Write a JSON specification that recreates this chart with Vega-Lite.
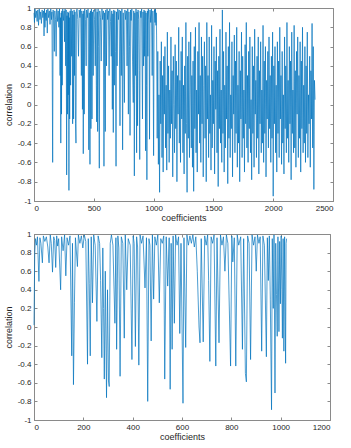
{
"$schema":"https://vega.github.io/schema/vega-lite/v6.json",
"padding":{"left":3,"top":3,"right":5,"bottom":5},
"spacing":6,
"config":{
"view":{"stroke":"#8a8a8a","strokeWidth":1},
"axis":{"labelFont":"Liberation Sans","titleFont":"Liberation Sans","labelFontSize":8,"titleFontSize":9,"titleFontWeight":"normal","labelColor":"#262626","titleColor":"#262626","domainColor":"#8a8a8a","tickColor":"#8a8a8a","tickSize":-3,"grid":false,"labelPadding":6},
"line":{"color":"#0072BD","strokeWidth":0.7}
},
"datasets":{
"a":[
{"x":0,"y":0.95},{"x":4,"y":0.85},{"x":8,"y":0.99},{"x":14,"y":0.9},{"x":20,"y":0.97},{"x":26,"y":0.86},{"x":32,"y":0.98},{"x":38,"y":0.82},{"x":44,"y":0.99},{"x":50,"y":0.88},{"x":56,"y":0.96},{"x":62,"y":0.84},{"x":68,"y":0.98},{"x":74,"y":0.9},{"x":80,"y":0.97},{"x":84,"y":0.71},{"x":88,"y":0.99},{"x":92,"y":0.8},{"x":96,"y":0.95},{"x":102,"y":0.87},{"x":106,"y":0.98},{"x":111,"y":0.74},{"x":116,"y":0.99},{"x":122,"y":0.9},{"x":128,"y":0.97},{"x":134,"y":0.83},{"x":140,"y":0.99},{"x":146,"y":0.88},{"x":150,"y":0.96},{"x":156,"y":-0.6},{"x":160,"y":0.98},{"x":166,"y":0.87},{"x":170,"y":0.55},{"x":174,"y":0.97},{"x":180,"y":0.88},{"x":185,"y":0.5},{"x":190,"y":0.99},{"x":196,"y":0.86},{"x":202,"y":0.97},{"x":208,"y":0.8},{"x":213,"y":0.99},{"x":218,"y":0.3},{"x":221,"y":0.9},{"x":224,"y":-0.4},{"x":227,"y":0.95},{"x":230,"y":-0.1},{"x":233,"y":0.97},{"x":236,"y":0.2},{"x":240,"y":0.99},{"x":246,"y":0.87},{"x":252,"y":0.97},{"x":255,"y":0.65},{"x":260,"y":0.99},{"x":265,"y":0.4},{"x":269,"y":0.98},{"x":273,"y":-0.73},{"x":276,"y":0.92},{"x":280,"y":-0.1},{"x":283,"y":0.96},{"x":286,"y":0.1},{"x":289,"y":0.95},{"x":292,"y":-0.89},{"x":295,"y":0.9},{"x":298,"y":-0.15},{"x":302,"y":0.97},{"x":306,"y":0.2},{"x":310,"y":0.99},{"x":315,"y":0.5},{"x":320,"y":0.97},{"x":323,"y":-0.2},{"x":327,"y":0.93},{"x":331,"y":-0.15},{"x":335,"y":0.98},{"x":339,"y":0.3},{"x":343,"y":0.96},{"x":347,"y":-0.2},{"x":351,"y":-0.4},{"x":355,"y":0.97},{"x":360,"y":0.99},{"x":366,"y":0.88},{"x":372,"y":0.5},{"x":378,"y":0.98},{"x":384,"y":0.9},{"x":390,"y":0.99},{"x":396,"y":0.3},{"x":400,"y":0.97},{"x":405,"y":-0.05},{"x":409,"y":0.94},{"x":412,"y":-0.51},{"x":416,"y":0.97},{"x":420,"y":-0.1},{"x":424,"y":0.99},{"x":430,"y":0.88},{"x":436,"y":0.4},{"x":440,"y":0.98},{"x":446,"y":0.9},{"x":452,"y":0.99},{"x":458,"y":-0.47},{"x":462,"y":0.95},{"x":468,"y":-0.62},{"x":472,"y":0.97},{"x":476,"y":-0.25},{"x":480,"y":0.99},{"x":485,"y":-0.15},{"x":490,"y":0.96},{"x":495,"y":0.3},{"x":500,"y":0.98},{"x":506,"y":0.88},{"x":512,"y":0.4},{"x":517,"y":0.99},{"x":521,"y":0.2},{"x":524,"y":-0.18},{"x":528,"y":0.96},{"x":532,"y":-0.28},{"x":536,"y":0.99},{"x":541,"y":0.6},{"x":546,"y":-0.66},{"x":550,"y":0.97},{"x":556,"y":0.9},{"x":562,"y":0.45},{"x":568,"y":0.99},{"x":574,"y":0.88},{"x":580,"y":0.97},{"x":585,"y":-0.64},{"x":590,"y":0.95},{"x":596,"y":-0.28},{"x":600,"y":0.98},{"x":606,"y":0.4},{"x":611,"y":0.99},{"x":616,"y":0.88},{"x":622,"y":0.97},{"x":628,"y":0.3},{"x":634,"y":0.99},{"x":640,"y":0.86},{"x":646,"y":0.5},{"x":650,"y":0.97},{"x":655,"y":-0.05},{"x":659,"y":0.94},{"x":663,"y":-0.29},{"x":667,"y":0.98},{"x":672,"y":0.2},{"x":676,"y":0.97},{"x":681,"y":0.55},{"x":686,"y":-0.64},{"x":690,"y":0.96},{"x":695,"y":0.4},{"x":700,"y":0.99},{"x":706,"y":0.88},{"x":712,"y":0.98},{"x":719,"y":-0.22},{"x":724,"y":0.97},{"x":730,"y":0.3},{"x":735,"y":0.99},{"x":741,"y":-0.47},{"x":746,"y":0.95},{"x":751,"y":0.5},{"x":756,"y":0.02},{"x":760,"y":0.98},{"x":766,"y":0.88},{"x":772,"y":0.97},{"x":778,"y":0.4},{"x":784,"y":0.99},{"x":789,"y":-0.1},{"x":794,"y":0.96},{"x":799,"y":0.6},{"x":803,"y":-0.32},{"x":807,"y":0.98},{"x":812,"y":0.87},{"x":818,"y":0.99},{"x":824,"y":0.45},{"x":830,"y":0.02},{"x":834,"y":0.97},{"x":839,"y":-0.74},{"x":843,"y":0.95},{"x":848,"y":0.3},{"x":853,"y":0.99},{"x":858,"y":-0.5},{"x":862,"y":0.96},{"x":866,"y":-0.22},{"x":870,"y":0.98},{"x":876,"y":0.88},{"x":880,"y":0.35},{"x":884,"y":-0.57},{"x":888,"y":0.97},{"x":894,"y":0.9},{"x":900,"y":0.99},{"x":907,"y":-0.15},{"x":911,"y":0.96},{"x":916,"y":0.4},{"x":920,"y":0.98},{"x":925,"y":0.5},{"x":929,"y":0.97},{"x":933,"y":-0.48},{"x":937,"y":0.95},{"x":941,"y":0.2},{"x":944,"y":-0.78},{"x":948,"y":0.97},{"x":952,"y":0.5},{"x":956,"y":0.99},{"x":962,"y":0.88},{"x":966,"y":-0.36},{"x":970,"y":0.98},{"x":976,"y":0.85},{"x":982,"y":0.99},{"x":988,"y":0.3},{"x":994,"y":0.97},{"x":1000,"y":-0.53},{"x":1004,"y":0.84},{"x":1008,"y":0.98},{"x":1012,"y":0.85},{"x":1016,"y":0.99},{"x":1020,"y":0.82},{"x":1022,"y":0.95},
{"x":1025,"y":0.72},{"x":1030,"y":-0.35},{"x":1035,"y":0.55},{"x":1040,"y":-0.62},{"x":1045,"y":0.1},{"x":1050,"y":-0.91},{"x":1055,"y":0.45},{"x":1060,"y":-0.2},{"x":1065,"y":0.65},{"x":1070,"y":-0.55},
{"x":1075,"y":0.3},{"x":1080,"y":-0.7},{"x":1085,"y":0.5},{"x":1090,"y":-0.1},{"x":1095,"y":0.6},{"x":1100,"y":-0.45},{"x":1105,"y":0.2},{"x":1110,"y":-0.68},{"x":1115,"y":0.75},{"x":1120,"y":-0.3},
{"x":1125,"y":0.4},{"x":1130,"y":-0.6},{"x":1135,"y":0.15},{"x":1140,"y":-0.35},{"x":1145,"y":0.7},{"x":1150,"y":-0.2},{"x":1155,"y":0.35},{"x":1160,"y":-0.75},{"x":1165,"y":0.5},{"x":1170,"y":0.0},
{"x":1175,"y":-0.5},{"x":1180,"y":0.62},{"x":1185,"y":-0.25},{"x":1190,"y":0.45},{"x":1195,"y":-0.8},{"x":1200,"y":0.3},{"x":1205,"y":-0.1},{"x":1210,"y":0.8},{"x":1215,"y":-0.4},{"x":1220,"y":0.25},
{"x":1225,"y":-0.6},{"x":1230,"y":0.55},{"x":1235,"y":-0.15},{"x":1240,"y":0.7},{"x":1245,"y":-0.5},{"x":1250,"y":0.2},{"x":1255,"y":-0.72},{"x":1260,"y":0.4},{"x":1265,"y":-0.3},{"x":1270,"y":0.85},
{"x":1275,"y":-0.2},{"x":1280,"y":-0.91},{"x":1285,"y":0.5},{"x":1290,"y":-0.35},{"x":1295,"y":0.65},{"x":1300,"y":-0.55},{"x":1305,"y":0.1},{"x":1310,"y":0.75},{"x":1315,"y":-0.45},{"x":1320,"y":0.3},
{"x":1325,"y":-0.65},{"x":1330,"y":0.45},{"x":1335,"y":-0.9},{"x":1340,"y":0.6},{"x":1345,"y":-0.25},{"x":1350,"y":0.8},{"x":1355,"y":-0.5},{"x":1360,"y":0.15},{"x":1365,"y":-0.7},{"x":1370,"y":0.55},
{"x":1375,"y":-0.1},{"x":1380,"y":0.85},{"x":1385,"y":-0.4},{"x":1390,"y":0.3},{"x":1395,"y":-0.6},{"x":1400,"y":0.7},{"x":1405,"y":-0.2},{"x":1410,"y":0.5},{"x":1415,"y":-0.75},{"x":1420,"y":0.2},
{"x":1425,"y":0.65},{"x":1430,"y":-0.35},{"x":1435,"y":0.4},{"x":1440,"y":-0.8},{"x":1445,"y":0.85},{"x":1450,"y":-0.15},{"x":1455,"y":0.3},{"x":1460,"y":-0.55},{"x":1465,"y":0.7},{"x":1470,"y":-0.3},
{"x":1475,"y":0.1},{"x":1480,"y":-0.68},{"x":1485,"y":0.82},{"x":1490,"y":-0.45},{"x":1495,"y":0.25},{"x":1500,"y":-0.2},{"x":1505,"y":0.6},{"x":1510,"y":-0.72},{"x":1515,"y":0.45},{"x":1520,"y":-0.05},
{"x":1525,"y":0.7},{"x":1530,"y":-0.5},{"x":1535,"y":0.35},{"x":1540,"y":-0.85},{"x":1545,"y":0.5},{"x":1550,"y":-0.25},{"x":1555,"y":0.78},{"x":1560,"y":-0.4},{"x":1565,"y":0.15},{"x":1570,"y":-0.6},
{"x":1575,"y":0.98},{"x":1580,"y":-0.3},{"x":1585,"y":0.55},{"x":1590,"y":-0.7},{"x":1595,"y":0.2},{"x":1600,"y":-0.45},{"x":1605,"y":0.75},{"x":1610,"y":-0.15},{"x":1615,"y":0.4},{"x":1620,"y":-0.82},
{"x":1625,"y":0.6},{"x":1630,"y":-0.35},{"x":1635,"y":0.85},{"x":1640,"y":-0.55},{"x":1645,"y":0.1},{"x":1650,"y":-0.25},{"x":1655,"y":0.65},{"x":1660,"y":-0.75},{"x":1665,"y":0.3},{"x":1670,"y":-0.1},
{"x":1675,"y":0.72},{"x":1680,"y":-0.5},{"x":1685,"y":0.45},{"x":1690,"y":-0.3},{"x":1695,"y":0.8},{"x":1700,"y":-0.65},{"x":1705,"y":0.2},{"x":1710,"y":-0.4},{"x":1715,"y":0.55},{"x":1720,"y":-0.8},
{"x":1725,"y":0.35},{"x":1730,"y":-0.15},{"x":1735,"y":0.75},{"x":1740,"y":-0.55},{"x":1745,"y":0.5},{"x":1750,"y":-0.35},{"x":1755,"y":0.15},{"x":1760,"y":-0.7},{"x":1765,"y":0.62},{"x":1770,"y":-0.2},
{"x":1775,"y":0.85},{"x":1780,"y":-0.45},{"x":1785,"y":0.3},{"x":1790,"y":-0.6},{"x":1795,"y":0.55},{"x":1800,"y":-0.25},{"x":1805,"y":0.7},{"x":1810,"y":-0.5},{"x":1815,"y":0.05},{"x":1820,"y":-0.78},
{"x":1825,"y":0.6},{"x":1830,"y":-0.3},{"x":1835,"y":0.4},{"x":1840,"y":-0.65},{"x":1845,"y":0.78},{"x":1850,"y":-0.1},{"x":1855,"y":0.25},{"x":1860,"y":-0.55},{"x":1865,"y":0.5},{"x":1870,"y":-0.35},
{"x":1875,"y":0.7},{"x":1880,"y":-0.72},{"x":1885,"y":0.35},{"x":1890,"y":-0.2},{"x":1895,"y":0.65},{"x":1900,"y":-0.5},{"x":1905,"y":0.15},{"x":1910,"y":-0.4},{"x":1915,"y":0.82},{"x":1920,"y":-0.6},
{"x":1925,"y":0.45},{"x":1930,"y":-0.3},{"x":1935,"y":0.6},{"x":1940,"y":-0.75},{"x":1945,"y":0.25},{"x":1950,"y":-0.15},{"x":1955,"y":0.55},{"x":1960,"y":-0.45},{"x":1965,"y":0.7},{"x":1970,"y":-0.25},
{"x":1975,"y":0.3},{"x":1980,"y":-0.6},{"x":1985,"y":0.5},{"x":1990,"y":-0.35},{"x":1995,"y":0.75},{"x":2000,"y":-0.95},{"x":2005,"y":0.4},{"x":2010,"y":-0.2},{"x":2015,"y":0.6},{"x":2020,"y":-0.5},
{"x":2025,"y":0.2},{"x":2030,"y":-0.7},{"x":2035,"y":0.65},{"x":2040,"y":-0.3},{"x":2045,"y":0.45},{"x":2050,"y":-0.55},{"x":2055,"y":0.8},{"x":2060,"y":-0.15},{"x":2065,"y":0.3},{"x":2070,"y":-0.62},
{"x":2075,"y":0.55},{"x":2080,"y":-0.4},{"x":2085,"y":0.1},{"x":2090,"y":-0.72},{"x":2095,"y":0.7},{"x":2100,"y":-0.25},{"x":2105,"y":0.4},{"x":2110,"y":-0.5},{"x":2115,"y":0.85},{"x":2120,"y":-0.35},
{"x":2125,"y":0.25},{"x":2130,"y":-0.6},{"x":2135,"y":0.6},{"x":2140,"y":-0.2},{"x":2145,"y":0.45},{"x":2150,"y":-0.78},{"x":2155,"y":0.75},{"x":2160,"y":-0.3},{"x":2165,"y":0.15},{"x":2170,"y":-0.5},
{"x":2175,"y":0.82},{"x":2180,"y":-0.45},{"x":2185,"y":0.35},{"x":2190,"y":-0.65},{"x":2195,"y":0.55},{"x":2200,"y":-0.1},{"x":2205,"y":0.7},{"x":2210,"y":-0.55},{"x":2215,"y":0.3},{"x":2220,"y":-0.35},
{"x":2225,"y":0.65},{"x":2230,"y":-0.7},{"x":2235,"y":0.45},{"x":2240,"y":-0.25},{"x":2245,"y":0.8},{"x":2250,"y":-0.5},{"x":2255,"y":0.2},{"x":2260,"y":-0.4},{"x":2265,"y":0.6},{"x":2270,"y":-0.6},
{"x":2275,"y":0.4},{"x":2280,"y":-0.3},{"x":2285,"y":0.75},{"x":2290,"y":-0.55},{"x":2295,"y":0.1},{"x":2300,"y":-0.2},{"x":2305,"y":0.5},{"x":2310,"y":-0.65},{"x":2315,"y":0.35},{"x":2320,"y":-0.15},
{"x":2325,"y":0.84},{"x":2330,"y":-0.45},{"x":2335,"y":0.6},{"x":2340,"y":-0.88},{"x":2345,"y":0.25},{"x":2350,"y":0.05}
],
"b":[
{"x":0,"y":0.02},{"x":3,"y":0.8},{"x":6,"y":0.95},{"x":10,"y":0.88},{"x":14,"y":0.97},{"x":20,"y":0.49},{"x":24,"y":0.96},{"x":28,"y":0.9},{"x":34,"y":0.69},{"x":38,"y":0.98},{"x":44,"y":0.92},{"x":50,"y":0.97},{"x":56,"y":0.86},{"x":61,"y":0.69},{"x":66,"y":0.99},{"x":70,"y":0.9},{"x":75,"y":0.59},{"x":80,"y":0.97},{"x":84,"y":0.93},{"x":88,"y":0.64},{"x":92,"y":0.98},{"x":96,"y":0.87},{"x":100,"y":0.95},{"x":108,"y":0.4},{"x":112,"y":0.97},{"x":118,"y":0.82},{"x":124,"y":0.99},{"x":129,"y":0.55},{"x":134,"y":0.96},{"x":140,"y":0.88},{"x":146,"y":0.98},{"x":153,"y":-0.31},{"x":156,"y":0.9},{"x":160,"y":-0.62},{"x":164,"y":0.26},{"x":168,"y":0.96},{"x":176,"y":0.65},{"x":180,"y":0.99},{"x":186,"y":0.9},{"x":192,"y":0.98},{"x":198,"y":0.85},{"x":204,"y":0.99},{"x":210,"y":0.92},{"x":217,"y":-0.4},{"x":220,"y":0.95},{"x":224,"y":0.47},{"x":228,"y":-0.31},{"x":232,"y":0.97},{"x":237,"y":0.26},{"x":242,"y":0.99},{"x":248,"y":0.88},{"x":255,"y":0.06},{"x":260,"y":0.98},{"x":266,"y":0.9},{"x":270,"y":0.5},{"x":275,"y":-0.33},{"x":279,"y":0.85},{"x":282,"y":0.2},{"x":285,"y":-0.56},{"x":289,"y":0.6},{"x":294,"y":-0.76},{"x":298,"y":0.4},{"x":302,"y":-0.58},{"x":305,"y":-0.64},{"x":309,"y":0.9},{"x":314,"y":0.99},{"x":320,"y":0.88},{"x":328,"y":0.04},{"x":332,"y":0.96},{"x":335,"y":-0.24},{"x":340,"y":0.98},{"x":344,"y":0.85},{"x":349,"y":-0.53},{"x":354,"y":0.97},{"x":360,"y":0.9},{"x":366,"y":-0.12},{"x":370,"y":0.99},{"x":376,"y":0.4},{"x":382,"y":0.95},{"x":390,"y":0.88},{"x":397,"y":-0.35},{"x":402,"y":0.98},{"x":406,"y":0.9},{"x":411,"y":-0.21},{"x":416,"y":0.97},{"x":420,"y":0.86},{"x":425,"y":-0.41},{"x":430,"y":0.99},{"x":436,"y":0.9},{"x":442,"y":0.98},{"x":450,"y":0.42},{"x":456,"y":0.96},{"x":461,"y":-0.8},{"x":466,"y":0.95},{"x":470,"y":0.88},{"x":475,"y":-0.15},{"x":480,"y":0.99},{"x":485,"y":0.3},{"x":490,"y":0.97},{"x":496,"y":0.88},{"x":502,"y":0.99},{"x":508,"y":0.26},{"x":514,"y":0.95},{"x":520,"y":0.9},{"x":526,"y":0.98},{"x":530,"y":-0.56},{"x":536,"y":0.97},{"x":542,"y":0.44},{"x":548,"y":0.96},{"x":552,"y":-0.67},{"x":556,"y":0.9},{"x":560,"y":-0.24},{"x":564,"y":0.98},{"x":569,"y":0.04},{"x":574,"y":0.99},{"x":580,"y":0.88},{"x":586,"y":0.97},{"x":591,"y":-0.07},{"x":596,"y":0.9},{"x":604,"y":-0.82},{"x":608,"y":0.96},{"x":615,"y":-0.22},{"x":620,"y":0.99},{"x":626,"y":0.88},{"x":632,"y":0.98},{"x":638,"y":0.9},{"x":644,"y":0.99},{"x":650,"y":0.86},{"x":656,"y":0.97},{"x":662,"y":0.6},{"x":669,"y":0.0},{"x":673,"y":-0.17},{"x":678,"y":0.95},{"x":686,"y":-0.16},{"x":692,"y":0.98},{"x":698,"y":0.88},{"x":704,"y":0.99},{"x":708,"y":0.5},{"x":713,"y":-0.37},{"x":718,"y":0.97},{"x":724,"y":0.9},{"x":730,"y":0.99},{"x":737,"y":-0.42},{"x":742,"y":0.96},{"x":750,"y":-0.17},{"x":756,"y":0.99},{"x":762,"y":0.88},{"x":768,"y":0.97},{"x":774,"y":0.6},{"x":780,"y":0.99},{"x":786,"y":0.9},{"x":797,"y":-0.42},{"x":802,"y":0.98},{"x":806,"y":0.7},{"x":812,"y":0.96},{"x":818,"y":-0.42},{"x":824,"y":0.99},{"x":830,"y":0.88},{"x":838,"y":0.97},{"x":845,"y":-0.24},{"x":850,"y":0.95},{"x":857,"y":-0.5},{"x":861,"y":-0.59},{"x":866,"y":0.98},{"x":872,"y":0.9},{"x":878,"y":-0.35},{"x":884,"y":0.99},{"x":890,"y":0.88},{"x":896,"y":0.97},{"x":901,"y":0.6},{"x":906,"y":0.99},{"x":912,"y":0.9},{"x":917,"y":0.97},{"x":923,"y":-0.26},{"x":928,"y":0.98},{"x":934,"y":0.88},{"x":942,"y":-0.32},{"x":946,"y":0.96},{"x":950,"y":0.5},{"x":954,"y":0.98},{"x":958,"y":0.3},{"x":963,"y":-0.89},{"x":966,"y":0.95},{"x":970,"y":0.2},{"x":973,"y":0.99},{"x":977,"y":-0.71},{"x":980,"y":0.9},{"x":983,"y":0.35},{"x":986,"y":-0.1},{"x":989,"y":0.97},{"x":993,"y":-0.05},{"x":996,"y":0.92},{"x":999,"y":0.25},{"x":1002,"y":0.98},{"x":1005,"y":0.4},{"x":1007,"y":-0.12},{"x":1010,"y":0.95},{"x":1013,"y":-0.26},{"x":1016,"y":0.97},{"x":1018,"y":0.3},{"x":1020,"y":-0.39},{"x":1022,"y":0.9},{"x":1024,"y":0.95}
]
},
"vconcat":[
{"width":299,"height":193,"data":{"name":"a"},
"resolve":{"axis":{"x":"independent","y":"independent"}},
"layer":[
{"mark":{"type":"line"},
"encoding":{
"x":{"field":"x","type":"quantitative","scale":{"domain":[0,2500],"nice":false},"axis":{"values":[0,500,1000,1500,2000,2500],"labelExpr":"'' + datum.value","title":"coefficients","titlePadding":1}},
"y":{"field":"y","type":"quantitative","scale":{"domain":[-1,1],"nice":false},"axis":{"values":[-1,-0.8,-0.6,-0.4,-0.2,0,0.2,0.4,0.6,0.8,1],"labelExpr":"'' + datum.value","title":"correlation","titlePadding":4}}}},
{"mark":{"type":"line","opacity":0},
"encoding":{
"x":{"field":"x","type":"quantitative","axis":{"orient":"top","values":[0,500,1000,1500,2000,2500],"labels":false,"title":null,"domain":false}},
"y":{"field":"y","type":"quantitative","axis":{"orient":"right","values":[-1,-0.8,-0.6,-0.4,-0.2,0,0.2,0.4,0.6,0.8,1],"labels":false,"title":null,"domain":false}}}}
]},
{"width":296,"height":186,"data":{"name":"b"},
"resolve":{"axis":{"x":"independent","y":"independent"}},
"layer":[
{"mark":{"type":"line"},
"encoding":{
"x":{"field":"x","type":"quantitative","scale":{"domain":[0,1200],"nice":false},"axis":{"values":[0,200,400,600,800,1000,1200],"labelExpr":"'' + datum.value","title":"coefficients","titlePadding":1}},
"y":{"field":"y","type":"quantitative","scale":{"domain":[-1,1],"nice":false},"axis":{"values":[-1,-0.8,-0.6,-0.4,-0.2,0,0.2,0.4,0.6,0.8,1],"labelExpr":"'' + datum.value","title":"correlation","titlePadding":4}}}},
{"mark":{"type":"line","opacity":0},
"encoding":{
"x":{"field":"x","type":"quantitative","axis":{"orient":"top","values":[0,200,400,600,800,1000,1200],"labels":false,"title":null,"domain":false}},
"y":{"field":"y","type":"quantitative","axis":{"orient":"right","values":[-1,-0.8,-0.6,-0.4,-0.2,0,0.2,0.4,0.6,0.8,1],"labels":false,"title":null,"domain":false}}}}
]}
]
}
